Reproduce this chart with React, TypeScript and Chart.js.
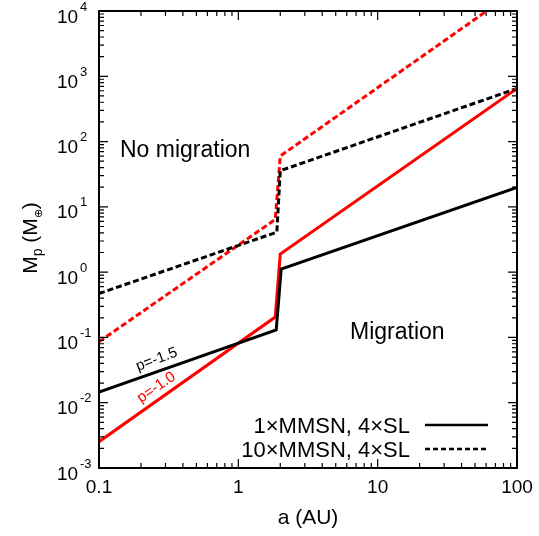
import React, { useEffect, useRef } from "react";
import { Chart, registerables } from "chart.js";

Chart.register(...registerables);

// Data (a in AU, Mp in Earth masses)
const solidBlackA = [0.1, 1.87, 2.03, 100];
const solidBlackM = [0.0146, 0.13, 1.11, 19.8];
const solidRedA = [0.1, 1.84, 2.0, 100];
const solidRedM = [0.00253, 0.205, 1.89, 650];
const dashedBlackA = [0.1, 1.89, 2.0, 100];
const dashedBlackM = [0.47, 4.1, 35.8, 650];
const dashedRedA = [0.1, 1.84, 2.0, 100];
const dashedRedM = [0.086, 6.4, 60, 21200];

const xTickValues = [0.1, 1, 10, 100];
const xTickLabels = ["0.1", "1", "10", "100"];
const yTickExponents = [-3, -2, -1, 0, 1, 2, 3, 4];
const legendLabels = ["1×MMSN, 4×SL", "10×MMSN, 4×SL"];

const FONT = "'Liberation Sans', Arial, sans-serif";

const pts = (xs: number[], ys: number[]) => xs.map((x, i) => ({ x, y: ys[i] }));

const decorPlugin = {
  id: "decor",
  afterDraw(chart: any) {
    const ctx = chart.ctx as CanvasRenderingContext2D;
    const { left, right, top, bottom } = chart.chartArea;
    const xs = chart.scales.x;
    const ys = chart.scales.y;
    ctx.save();
    // frame
    ctx.strokeStyle = "#000";
    ctx.lineWidth = 2;
    ctx.strokeRect(left, top, right - left, bottom - top);
    // ticks
    ctx.lineWidth = 1.2;
    ctx.beginPath();
    for (let e = -1; e <= 2; e++) {
      for (let m = 1; m <= 9; m++) {
        const v = m * Math.pow(10, e);
        if (v > 100.0001) continue;
        const px = xs.getPixelForValue(v);
        const len = m === 1 ? 9 : 5;
        ctx.moveTo(px, bottom);
        ctx.lineTo(px, bottom - len);
        ctx.moveTo(px, top);
        ctx.lineTo(px, top + len);
      }
    }
    for (let e = -3; e <= 4; e++) {
      for (let m = 1; m <= 9; m++) {
        const v = m * Math.pow(10, e);
        if (v > 10000.001) continue;
        const py = ys.getPixelForValue(v);
        const len = m === 1 ? 9 : 5;
        ctx.moveTo(left, py);
        ctx.lineTo(left + len, py);
        ctx.moveTo(right, py);
        ctx.lineTo(right - len, py);
      }
    }
    ctx.stroke();

    ctx.fillStyle = "#000";
    // x tick labels
    ctx.font = `19px ${FONT}`;
    ctx.textAlign = "center";
    ctx.textBaseline = "alphabetic";
    xTickValues.forEach((v, i) => {
      ctx.fillText(xTickLabels[i], xs.getPixelForValue(v), bottom + 25);
    });
    // y tick labels with exponents
    yTickExponents.forEach((e) => {
      const py = ys.getPixelForValue(Math.pow(10, e));
      ctx.textAlign = "left";
      ctx.font = `19px ${FONT}`;
      ctx.fillText("10", 57, py + 11.5);
      ctx.font = `13px ${FONT}`;
      ctx.fillText(String(e), 80, py - 0.5);
    });
    // axis titles
    ctx.font = `21px ${FONT}`;
    ctx.textAlign = "center";
    ctx.fillText("a (AU)", (left + right) / 2, bottom + 56);
    ctx.save();
    ctx.translate(37, 238);
    ctx.rotate(-Math.PI / 2);
    ctx.textAlign = "left";
    const parts: [string, number, number][] = [
      ["M", 21, 0],
      ["p", 14, 5],
      [" (M", 21, 0],
      ["⊕", 11, 5],
      [")", 21, 0],
    ];
    let total = 0;
    parts.forEach(([t, s]) => {
      ctx.font = `${s}px ${FONT}`;
      total += ctx.measureText(t).width;
    });
    let cx = -total / 2;
    parts.forEach(([t, s, dy]) => {
      ctx.font = `${s}px ${FONT}`;
      ctx.fillText(t, cx, dy);
      cx += ctx.measureText(t).width;
    });
    ctx.restore();

    // region labels
    ctx.font = `23px ${FONT}`;
    ctx.textAlign = "left";
    ctx.fillText("No migration", 120, 157);
    ctx.fillText("Migration", 350, 339);

    // p labels
    ctx.font = `15px ${FONT}`;
    ctx.save();
    ctx.translate(138, 371);
    ctx.rotate(-0.36);
    ctx.fillText("p=-1.5", 0, 0);
    ctx.restore();
    ctx.save();
    ctx.fillStyle = "#ff0000";
    ctx.translate(141, 403);
    ctx.rotate(-0.6);
    ctx.fillText("p=-1.0", 0, 0);
    ctx.restore();

    // legend
    ctx.font = `22px ${FONT}`;
    ctx.textAlign = "right";
    ctx.fillText(legendLabels[0], 410, 433);
    ctx.fillText(legendLabels[1], 410, 457);
    ctx.lineWidth = 2.5;
    ctx.beginPath();
    ctx.moveTo(425, 425);
    ctx.lineTo(488, 425);
    ctx.stroke();
    ctx.setLineDash([5, 3]);
    ctx.beginPath();
    ctx.moveTo(425, 449);
    ctx.lineTo(488, 449);
    ctx.stroke();
    ctx.restore();
  },
};

export default function App() {
  const ref = useRef<HTMLCanvasElement>(null);
  useEffect(() => {
    if (!ref.current) return;
    const chart = new Chart(ref.current, {
      type: "line",
      data: {
        datasets: [
          {
            label: "1×MMSN, 4×SL (p=-1.5)",
            data: pts(solidBlackA, solidBlackM),
            borderColor: "#000",
            borderWidth: 3,
            pointRadius: 0,
            tension: 0,
          },
          {
            label: "1×MMSN, 4×SL (p=-1.0)",
            data: pts(solidRedA, solidRedM),
            borderColor: "#ff0000",
            borderWidth: 3,
            pointRadius: 0,
            tension: 0,
          },
          {
            label: "10×MMSN, 4×SL (p=-1.5)",
            data: pts(dashedBlackA, dashedBlackM),
            borderColor: "#000",
            borderWidth: 3,
            borderDash: [6, 3],
            pointRadius: 0,
            tension: 0,
          },
          {
            label: "10×MMSN, 4×SL (p=-1.0)",
            data: pts(dashedRedA, dashedRedM),
            borderColor: "#ff0000",
            borderWidth: 3,
            borderDash: [6, 3],
            pointRadius: 0,
            tension: 0,
          },
        ],
      },
      options: {
        animation: false,
        responsive: false,
        parsing: false as any,
        layout: { padding: { top: 11, right: 22, left: 0, bottom: 0 } },
        plugins: { legend: { display: false }, tooltip: { enabled: false } },
        scales: {
          x: {
            type: "logarithmic",
            min: 0.1,
            max: 100,
            grid: { display: false, drawTicks: false },
            border: { display: false },
            ticks: { display: false },
            afterFit: (s: any) => {
              s.height = 68;
            },
          },
          y: {
            type: "logarithmic",
            min: 0.001,
            max: 10000,
            grid: { display: false, drawTicks: false },
            border: { display: false },
            ticks: { display: false },
            afterFit: (s: any) => {
              s.width = 99;
            },
          },
        },
      },
      plugins: [decorPlugin],
    });
    return () => chart.destroy();
  }, []);
  return (
    <div style={{ position: "fixed", left: 0, top: 0, width: 539, height: 536, background: "#fff" }}>
      <canvas ref={ref} width={539} height={536} />
    </div>
  );
}
